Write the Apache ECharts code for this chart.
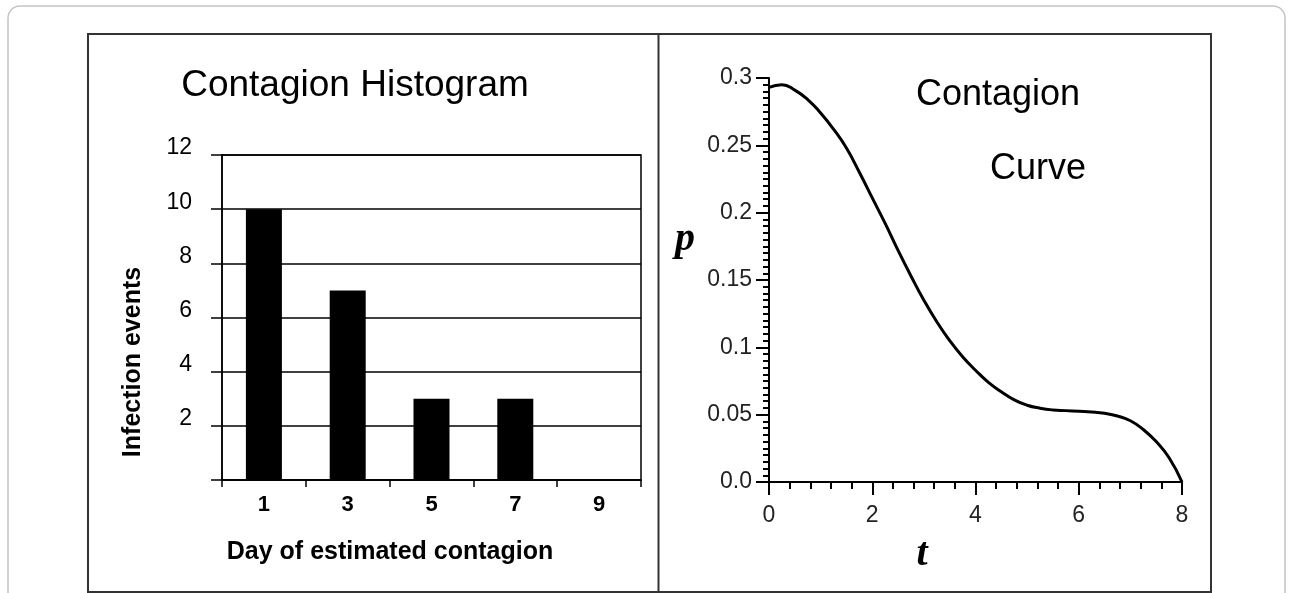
<!DOCTYPE html>
<html>
<head>
<meta charset="utf-8">
<script src="https://cdn.jsdelivr.net/npm/echarts@6/dist/echarts.min.js"></script>
<style>
html,body{margin:0;padding:0;background:#fff;}
#chart{width:1291px;height:593px;}
</style>
</head>
<body>
<div id="chart"></div>
<script>
// ---- Data ----
const histTitle = 'Contagion Histogram';
const histCategories = ['1', '3', '5', '7', '9'];
const histValues = [10, 7, 3, 3, 0];
const histXName = 'Day of estimated contagion';
const histYName = 'Infection events';

const curveTitle1 = 'Contagion';
const curveTitle2 = 'Curve';
const curveT = [0, 0.25, 0.5, 0.75, 1, 1.25, 1.5, 1.75, 2, 2.25, 2.5, 2.75, 3, 3.25, 3.5, 3.75, 4,
                4.25, 4.5, 4.75, 5, 5.25, 5.5, 5.75, 6, 6.25, 6.5, 6.75, 7, 7.25, 7.5, 7.75, 8];
const curveP = [0.293, 0.295, 0.291, 0.284, 0.274, 0.262, 0.248, 0.230, 0.211, 0.192, 0.172, 0.153, 0.135,
                0.119, 0.105, 0.093, 0.083, 0.074, 0.067, 0.061, 0.057, 0.0548, 0.0535, 0.053, 0.0525,
                0.052, 0.051, 0.049, 0.0455, 0.039, 0.030, 0.018, 0.0];
const curveXName = 't';
const curveYName = 'p';

const curveData = curveT.map((t, i) => [t, curveP[i]]);

const chart = echarts.init(document.getElementById('chart'), null, {renderer: 'canvas'});
const sans = "'Liberation Sans', Arial, sans-serif";
const serif = "'Liberation Serif', 'Times New Roman', serif";

const option = {
  backgroundColor: '#fff',
  animation: false,
  title: [
    {text: histTitle, left: 355, top: 67, textAlign: 'center', padding: 0,
     textStyle: {fontFamily: sans, fontSize: 37, fontWeight: 'normal', color: '#000'}},
    {text: curveTitle1, left: 998, top: 77, textAlign: 'center', padding: 0,
     textStyle: {fontFamily: sans, fontSize: 36, fontWeight: 'normal', color: '#000'}},
    {text: curveTitle2, left: 1038, top: 151, textAlign: 'center', padding: 0,
     textStyle: {fontFamily: sans, fontSize: 36, fontWeight: 'normal', color: '#000'}}
  ],
  graphic: [
    {type: 'rect', silent: true, z: -10,
     shape: {x: 8, y: 6, width: 1277, height: 610, r: 12},
     style: {fill: 'none', stroke: '#c4c4c4', lineWidth: 1.5}},
    {type: 'rect', silent: true, z: -9,
     shape: {x: 88, y: 34, width: 1123, height: 558},
     style: {fill: 'none', stroke: '#333', lineWidth: 2}},
    {type: 'line', silent: true, z: -9,
     shape: {x1: 658.5, y1: 34, x2: 658.5, y2: 592},
     style: {stroke: '#333', lineWidth: 2}}
  ],
  grid: [
    {left: 222, top: 155, width: 419, height: 325, show: true, borderColor: '#000', borderWidth: 1.5,
     backgroundColor: 'transparent', containLabel: false, outerBoundsMode: 'none'},
    {left: 769, top: 78, width: 413, height: 404, containLabel: false, outerBoundsMode: 'none'}
  ],
  xAxis: [
    {gridIndex: 0, type: 'category', data: histCategories, boundaryGap: true,
     name: histXName, nameLocation: 'middle', nameGap: 60, nameMoveOverlap: false,
     nameTextStyle: {fontFamily: sans, fontSize: 25, fontWeight: 'bold', color: '#000', padding: [0, 83, 0, 0]},
     axisLine: {show: true, lineStyle: {color: '#000', width: 1.5}},
     axisTick: {show: true, length: 7, interval: 0, lineStyle: {color: '#000', width: 1.5}},
     axisLabel: {margin: 14, fontFamily: sans, fontSize: 22, fontWeight: 'bold', color: '#000', interval: 0},
     splitLine: {show: false}},
    {gridIndex: 1, type: 'value', min: 0, max: 8, interval: 2,
     name: curveXName, nameLocation: 'middle', nameGap: 53, nameMoveOverlap: false,
     nameTextStyle: {fontFamily: serif, fontSize: 40, fontStyle: 'italic', fontWeight: 'bold', color: '#000', padding: [0, 107, 0, 0]},
     axisLine: {show: true, onZero: false, lineStyle: {color: '#000', width: 2}},
     axisTick: {show: true, length: 13, lineStyle: {color: '#000', width: 2}},
     minorTick: {show: true, splitNumber: 5, length: 7, lineStyle: {color: '#000', width: 2}},
     axisLabel: {margin: 22, fontFamily: sans, fontSize: 23, color: '#222'},
     splitLine: {show: false}, minorSplitLine: {show: false}}
  ],
  yAxis: [
    {gridIndex: 0, type: 'value', min: 0, max: 12, interval: 2,
     name: histYName, nameLocation: 'middle', nameGap: 76, nameRotate: 90, nameMoveOverlap: false,
     nameTextStyle: {fontFamily: sans, fontSize: 25, fontWeight: 'bold', color: '#000', padding: [0, 89, 0, 0]},
     axisLine: {show: true, lineStyle: {color: '#000', width: 1.5}},
     axisTick: {show: true, length: 11, lineStyle: {color: '#000', width: 1.5}},
     axisLabel: {margin: 30, fontFamily: sans, fontSize: 23, color: '#000',
                 verticalAlign: 'bottom', lineHeight: 14,
                 formatter: v => (v === 0 ? '' : String(v))},
     splitLine: {show: true, lineStyle: {color: '#000', width: 1.5}}},
    {gridIndex: 1, type: 'value', min: 0, max: 0.3, interval: 0.05,
     name: curveYName, nameLocation: 'middle', nameGap: 74, nameRotate: 0, nameMoveOverlap: false,
     nameTextStyle: {fontFamily: serif, fontSize: 40, fontStyle: 'italic', fontWeight: 'bold', color: '#000',
                     verticalAlign: 'bottom', lineHeight: 80},
     axisLine: {show: true, onZero: false, lineStyle: {color: '#000', width: 2}},
     axisTick: {show: true, length: 13, lineStyle: {color: '#000', width: 2}},
     minorTick: {show: true, splitNumber: 10, length: 6, lineStyle: {color: '#000', width: 2}},
     axisLabel: {margin: 17, fontFamily: sans, fontSize: 23, color: '#222',
                 formatter: v => (v === 0 ? '0.0' : String(+v.toFixed(2)))},
     splitLine: {show: false}, minorSplitLine: {show: false}}
  ],
  series: [
    {type: 'bar', xAxisIndex: 0, yAxisIndex: 0, data: histValues, barWidth: 36,
     itemStyle: {color: '#000'}, silent: true},
    {type: 'line', xAxisIndex: 1, yAxisIndex: 1, data: curveData, smooth: 0.5,
     showSymbol: false, symbol: 'none', lineStyle: {color: '#000', width: 3}, silent: true}
  ]
};
chart.setOption(option);
</script>
</body>
</html>
